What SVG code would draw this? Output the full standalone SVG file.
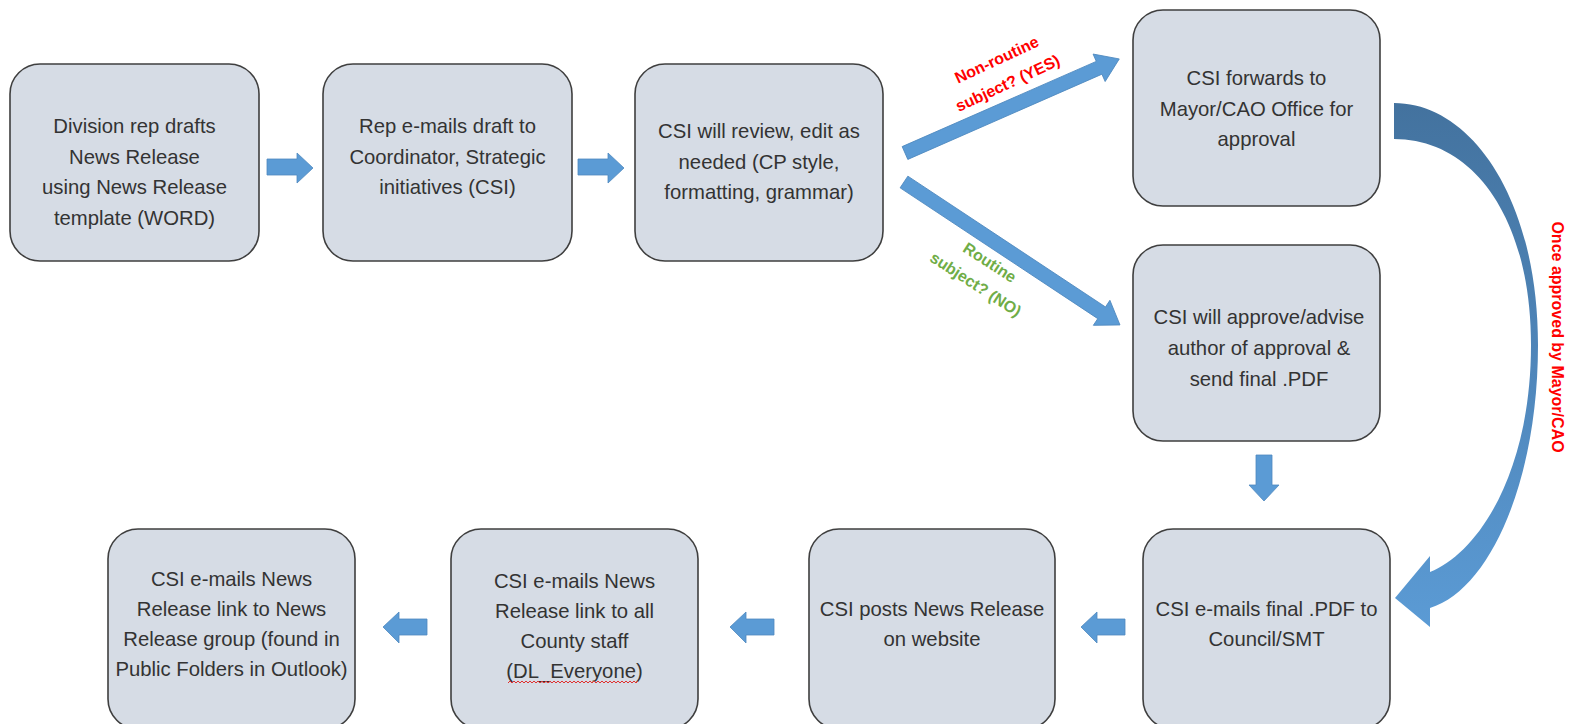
<svg xmlns="http://www.w3.org/2000/svg" width="1575" height="724" viewBox="0 0 1575 724">
<style>
.box{fill:#D6DCE5;stroke:#3F3F3F;stroke-width:1.6}
.t{font-family:"Liberation Sans",Arial,sans-serif;font-size:20.3px;fill:#333;text-anchor:middle}
.arr{fill:#5B9BD5;stroke:#4F89BF;stroke-width:0.8}
.lbl{font-family:"Liberation Sans",Arial,sans-serif;font-size:16px;font-weight:bold;text-anchor:middle}
</style>
<defs>
<linearGradient id="cg" x1="0" y1="100" x2="0" y2="630" gradientUnits="userSpaceOnUse">
<stop offset="0" stop-color="#43729E"/>
<stop offset="0.5" stop-color="#4F86BA"/>
<stop offset="1" stop-color="#5B9BD5"/>
</linearGradient>
</defs>
<rect width="1575" height="724" fill="#FFFFFF"/>

<g id="connectors">
<path class="arr" d="M267,159 H297 V153 L313,168 L297,183 V175 H267 Z"/>
<path class="arr" d="M578,159 H608 V153 L624,168 L608,183 V175 H578 Z"/>
<g transform="translate(905,153) rotate(-23.7)"><path class="arr" d="M0,-7 H212 V-15 L234,0 L212,15 V7 H0 Z"/></g>
<g transform="translate(904,182) rotate(33.5)"><path class="arr" d="M0,-7 H237 V-15 L259,0 L237,15 V7 H0 Z"/></g>
<path class="arr" d="M1256,455 H1272 V485 H1279 L1264,501 L1249,485 H1256 Z"/>
<path class="arr" d="M1125,619 H1097 V612 L1081,627 L1097,643 V635 H1125 Z"/>
<path class="arr" d="M774,619 H746 V612 L730,627 L746,643 V635 H774 Z"/>
<path class="arr" d="M427,619 H399 V612 L383,627 L399,643 V635 H427 Z"/>
<path fill="url(#cg)" d="M1394,103 C1472,103 1538,200 1538,345 C1538,480 1490,590 1430,608 L1430,627 L1395,598 L1430,556 L1430,572 C1480,552 1531,470 1531,345 C1531,220 1475,139 1394,139 Z"/>
<g transform="translate(1002,71) rotate(-25)">
<text class="lbl" fill="#FF0000" x="0" y="-7">Non-routine</text>
<text class="lbl" fill="#FF0000" x="0" y="19">subject? (YES)</text>
</g>
<g transform="translate(983,273) rotate(33)">
<text class="lbl" fill="#70AD47" x="0" y="-7">Routine</text>
<text class="lbl" fill="#70AD47" x="0" y="19">subject? (NO)</text>
</g>
<text class="lbl" fill="#FF0000" transform="translate(1552,337) rotate(90)" x="0" y="0">Once approved by Mayor/CAO</text>
</g>

<g id="n1">
<rect class="box" x="10" y="64" width="249" height="197" rx="30"/>
<text class="t" x="134.5" y="133">Division rep drafts</text>
<text class="t" x="134.5" y="163.5">News Release</text>
<text class="t" x="134.5" y="194">using News Release</text>
<text class="t" x="134.5" y="224.5">template (WORD)</text>
</g>
<g id="n2">
<rect class="box" x="323" y="64" width="249" height="197" rx="30"/>
<text class="t" x="447.5" y="133">Rep e-mails draft to</text>
<text class="t" x="447.5" y="163.5">Coordinator, Strategic</text>
<text class="t" x="447.5" y="194">initiatives (CSI)</text>
</g>
<g id="n3">
<rect class="box" x="635" y="64" width="248" height="197" rx="30"/>
<text class="t" x="759" y="138">CSI will review, edit as</text>
<text class="t" x="759" y="168.5">needed (CP style,</text>
<text class="t" x="759" y="199">formatting, grammar)</text>
</g>
<g id="n4">
<rect class="box" x="1133" y="10" width="247" height="196" rx="30"/>
<text class="t" x="1256.5" y="85">CSI forwards to</text>
<text class="t" x="1256.5" y="115.5">Mayor/CAO Office for</text>
<text class="t" x="1256.5" y="146">approval</text>
</g>
<g id="n5">
<rect class="box" x="1133" y="245" width="247" height="196" rx="30"/>
<text class="t" x="1259" y="324">CSI will approve/advise</text>
<text class="t" x="1259" y="355">author of approval &amp;</text>
<text class="t" x="1259" y="386">send final .PDF</text>
</g>
<g id="n6">
<rect class="box" x="1143" y="529" width="247" height="200" rx="30"/>
<text class="t" x="1266.5" y="616">CSI e-mails final .PDF to</text>
<text class="t" x="1266.5" y="646">Council/SMT</text>
</g>
<g id="n7">
<rect class="box" x="809" y="529" width="246" height="200" rx="30"/>
<text class="t" x="932" y="616">CSI posts News Release</text>
<text class="t" x="932" y="646">on website</text>
</g>
<g id="n8">
<rect class="box" x="451" y="529" width="247" height="200" rx="30"/>
<text class="t" x="574.5" y="588">CSI e-mails News</text>
<text class="t" x="574.5" y="618">Release link to all</text>
<text class="t" x="574.5" y="648">County staff</text>
<text class="t" x="574.5" y="678">(DL_Everyone)</text>
<path d="M508,683 l2,-2 l2,2 l2,-2 l2,2 l2,-2 l2,2 l2,-2 l2,2 l2,-2 l2,2 l2,-2 l2,2 l2,-2 l2,2 l2,-2 l2,2 l2,-2 l2,2 l2,-2 l2,2 l2,-2 l2,2 l2,-2 l2,2 l2,-2 l2,2 l2,-2 l2,2 l2,-2 l2,2 l2,-2 l2,2 l2,-2 l2,2 l2,-2 l2,2 l2,-2 l2,2 l2,-2 l2,2 l2,-2 l2,2 l2,-2 l2,2 l2,-2 l2,2 l2,-2 l2,2 l2,-2 l2,2 l2,-2 l2,2 l2,-2 l2,2 l2,-2 l2,2 l2,-2 l2,2 l2,-2 l2,2 l2,-2 l2,2 l2,-2 l2,2 l2,-2" fill="none" stroke="#E03030" stroke-width="1"/>
</g>
<g id="n9">
<rect class="box" x="108" y="529" width="247" height="200" rx="30"/>
<text class="t" x="231.5" y="586">CSI e-mails News</text>
<text class="t" x="231.5" y="616">Release link to News</text>
<text class="t" x="231.5" y="646">Release group (found in</text>
<text class="t" x="231.5" y="676">Public Folders in Outlook)</text>
</g>
</svg>
